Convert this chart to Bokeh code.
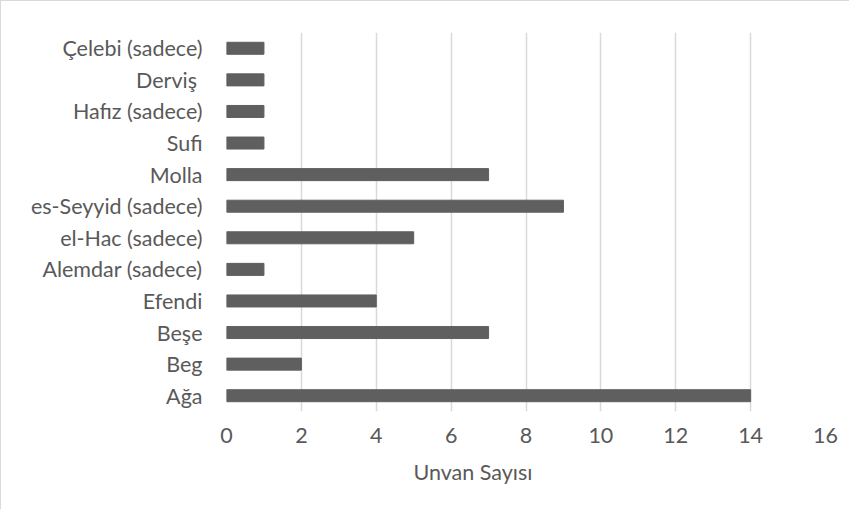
from bokeh.plotting import figure
from bokeh.models import FactorRange, Range1d, FixedTicker, Title
from bokeh.embed import file_html
from bokeh.resources import INLINE

categories = ["Ağa", "Beg", "Beşe", "Efendi", "Alemdar (sadece)", "el-Hac (sadece)",
              "es-Seyyid (sadece)", "Molla", "Sufi", "Hafız (sadece)", "Derviş ", "Çelebi (sadece)"]
counts = [14, 2, 7, 4, 1, 5, 9, 7, 1, 1, 1, 1]
x_ticks = [0, 2, 4, 6, 8, 10, 12, 14, 16]
x_title = "Unvan Sayısı"

FONT = "Lato"
TXT = "#595959"
FS = "21.5px"

p = figure(width=849, height=509, output_backend="svg", toolbar_location=None,
           y_range=FactorRange(factors=categories, range_padding=0),
           x_range=Range1d(0, 16),
           min_border_left=225, min_border_right=25, min_border_top=31, min_border_bottom=99,
           styles={"border-left": "1px solid #d9d9d9", "border-top": "1px solid #d9d9d9"})

p.hbar(y=categories, right=counts, left=0, height=0.38, color="#5f5f5f")

p.outline_line_color = None
p.background_fill_color = "white"
p.border_fill_color = "white"

p.ygrid.grid_line_color = None
p.xgrid.grid_line_color = "#d9d9d9"
p.xgrid.grid_line_width = 1.5
p.xaxis.ticker = FixedTicker(ticks=x_ticks)

for ax in (p.xaxis[0], p.yaxis[0]):
    ax.axis_line_color = None
    ax.major_tick_line_color = None
    ax.minor_tick_line_color = None
    ax.major_tick_out = 0
    ax.major_label_text_font = FONT
    ax.major_label_text_font_size = FS
    ax.major_label_text_color = TXT

p.yaxis.major_label_standoff = 24
p.xaxis.major_label_standoff = 16

title = Title(text=x_title, align="left", offset=187, standoff=23,
              text_font=FONT, text_font_size=FS, text_color=TXT,
              text_font_style="normal")
p.add_layout(title, "below")

open("out.html", "w").write(file_html(p, INLINE))
